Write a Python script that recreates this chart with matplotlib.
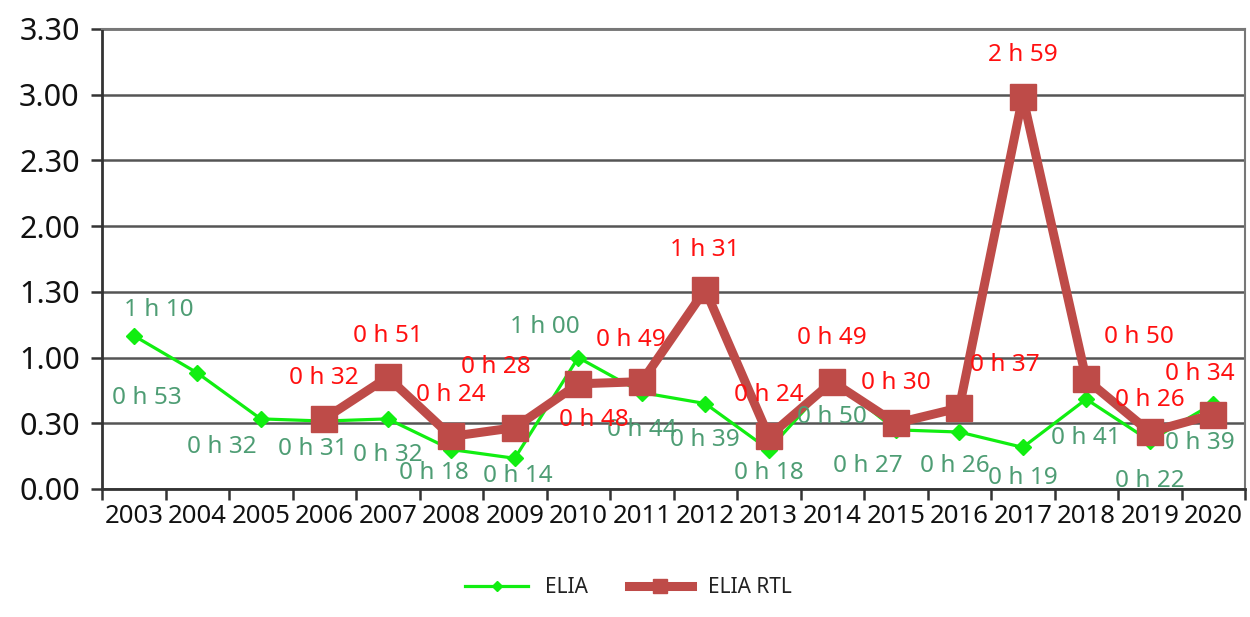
import matplotlib
matplotlib.use("Agg")
import matplotlib.pyplot as plt
import numpy as np

# ---- data ----
years = ["2003", "2004", "2005", "2006", "2007", "2008", "2009", "2010", "2011",
         "2012", "2013", "2014", "2015", "2016", "2017", "2018", "2019", "2020"]
elia_minutes = [70, 53, 32, 31, 32, 18, 14, 60, 44, 39, 18, 50, 27, 26, 19, 41, 22, 39]
rtl_minutes = [None, None, None, 32, 51, 24, 28, 48, 49, 91, 24, 49, 30, 37, 179, 50, 26, 34]
ytick_hours = [0.0, 0.5, 1.0, 1.5, 2.0, 2.5, 3.0, 3.5]
ytick_labels = ["0.00", "0.30", "1.00", "1.30", "2.00", "2.30", "3.00", "3.30"]

# label offsets in pixels (dx, dy up)
elia_offsets = [(25, 26), (-50, -25), (-39, -28), (-11, -28), (0, -36), (-17, -23),
                (3, -18), (-33, 31), (0, -37), (0, -36), (0, -23), (0, -38),
                (-28, -36), (-4, -34), (0, -31), (0, -39), (0, -40), (-13, -39)]
rtl_offsets = [None, None, None, (0, 41), (0, 41), (0, 41), (-19, 61), (16, -36),
               (-11, 42), (0, 40), (0, 41), (0, 44), (0, 40), (46, 43), (0, 42),
               (53, 42), (0, 32), (-13, 41)]

def fmt(m):
    return f"{m // 60} h {m % 60:02d}"

plt.rcParams['font.family'] = ['Noto Sans', 'DejaVu Sans']

fig = plt.figure(figsize=(12.5, 6.17), dpi=100)
ax = fig.add_axes([0.0816, 0.2075, 0.9144, 0.7455])

x = np.arange(len(years))
elia_h = np.array(elia_minutes) / 60.0
rtl_h = np.array([np.nan if m is None else m / 60.0 for m in rtl_minutes])

green = "#11EE11"
brown = "#BE4B48"
ax.plot(x, elia_h, color=green, lw=2.3, marker="D", ms=8.5, label="ELIA", zorder=3)
ax.plot(x, rtl_h, color=brown, lw=6.5, marker="s", ms=19, label="ELIA RTL", zorder=4)

for i, m in enumerate(elia_minutes):
    dx, dy = elia_offsets[i]
    ax.annotate(fmt(m), (x[i], elia_h[i]), xytext=(dx, dy), textcoords="offset pixels",
                ha="center", va="center", fontsize=17.5, color="#4E9D74", zorder=6)
for i, m in enumerate(rtl_minutes):
    if m is None:
        continue
    dx, dy = rtl_offsets[i]
    ax.annotate(fmt(m), (x[i], rtl_h[i]), xytext=(dx, dy), textcoords="offset pixels",
                ha="center", va="center", fontsize=17.5, color="#FF1010", zorder=6)

ax.set_xlim(-0.5, len(years) - 0.5)
ax.set_ylim(0, 3.5)
ax.set_yticks(ytick_hours)
ax.set_yticklabels(ytick_labels, fontsize=22, color="#111111")
ax.set_xticks(x)
ax.set_xticklabels(years, fontsize=18.5, color="#111111")
ax.set_xticks(np.arange(-0.5, len(years), 1.0), minor=True)
ax.tick_params(axis="x", which="major", length=0, pad=11)
ax.tick_params(axis="x", which="minor", length=8, width=1.8, color="#333333", direction="out")
ax.tick_params(axis="y", length=8, width=1.8, color="#333333", direction="out", pad=8)

ax.grid(axis="y", color="#555555", lw=1.8, zorder=1)
ax.set_axisbelow(True)
for s in ["top", "right"]:
    ax.spines[s].set_color("#777777")
    ax.spines[s].set_linewidth(1.5)
for s in ["left", "bottom"]:
    ax.spines[s].set_color("#333333")
    ax.spines[s].set_linewidth(2)

fig.legend(loc="lower center", bbox_to_anchor=(0.503, 0.0), ncol=2, frameon=False,
           fontsize=15, handlelength=3.0, columnspacing=2.0, markerscale=0.55,
           labelcolor="#222222")

fig.savefig("out.png", dpi=100, facecolor="white")
